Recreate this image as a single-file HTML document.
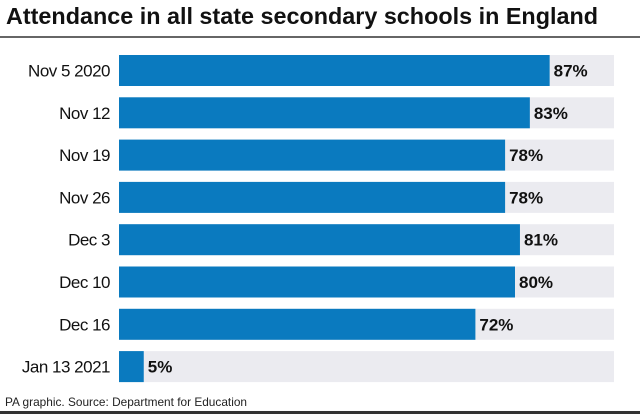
<!DOCTYPE html>
<html><head><meta charset="utf-8"><style>
body{margin:0;background:#fff;}
svg{display:block;font-family:"Liberation Sans",sans-serif;}
</style></head><body>
<svg width="640" height="414" viewBox="0 0 640 414">
<text x="6" y="24" font-size="23" font-weight="bold" fill="#111" textLength="592" lengthAdjust="spacingAndGlyphs">Attendance in all state secondary schools in England</text>
<rect x="0" y="36" width="640" height="2" fill="#666"/>
<g id="bars"></g>
<text x="5" y="406" font-size="12" fill="#222" textLength="242" lengthAdjust="spacingAndGlyphs">PA graphic. Source: Department for Education</text>
<rect x="0" y="411" width="640" height="3" fill="#333"/>
</svg>
<script>
const categories=["Nov 5 2020","Nov 12","Nov 19","Nov 26","Dec 3","Dec 10","Dec 16","Jan 13 2021"];
const values=[87,83,78,78,81,80,72,5];
const valueLabels=["87%","83%","78%","78%","81%","80%","72%","5%"];
const x0=119,x1=614,top0=55,pitch=42.3,bh=31;
const xs=v=>x0+(x1-x0)*v/100;
const ys=i=>top0+i*pitch;
const g=document.getElementById('bars');
const NS='http://www.w3.org/2000/svg';
categories.forEach((c,i)=>{
  const y=ys(i);
  const bg=document.createElementNS(NS,'rect');
  bg.setAttribute('x',x0);bg.setAttribute('y',y);bg.setAttribute('width',x1-x0);bg.setAttribute('height',bh);bg.setAttribute('fill','#ebebf0');
  
  
  g.appendChild(bg);
  const r=document.createElementNS(NS,'rect');
  r.setAttribute('x',x0);r.setAttribute('y',y);r.setAttribute('width',xs(values[i])-x0);r.setAttribute('height',bh);r.setAttribute('fill','#0a7abf');
  
  
  g.appendChild(r);
  const t=document.createElementNS(NS,'text');
  t.setAttribute('x',110);t.setAttribute('y',y+bh/2+6);t.setAttribute('text-anchor','end');t.setAttribute('font-size','17');t.setAttribute('fill','#111');t.setAttribute('letter-spacing','-0.5');
  t.textContent=c;
  
  
  g.appendChild(t);
  const v=document.createElementNS(NS,'text');
  v.setAttribute('x',xs(values[i])+4);v.setAttribute('y',y+bh/2+6);v.setAttribute('font-size','17');v.setAttribute('font-weight','bold');v.setAttribute('fill','#111');
  v.textContent=valueLabels[i];
  
  
  g.appendChild(v);
});
</script>
</body></html>
